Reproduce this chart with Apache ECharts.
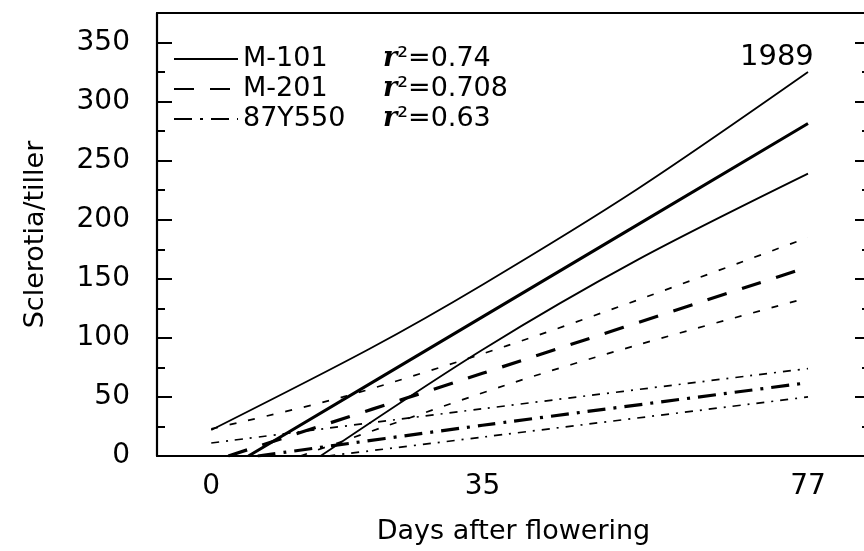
<!DOCTYPE html>
<html>
<head>
<meta charset="utf-8">
<script src="https://cdn.jsdelivr.net/npm/echarts@6/dist/echarts.min.js"></script>
<style>html,body{margin:0;padding:0;background:#fff}#c{width:864px;height:551px}</style>
</head>
<body>
<div id="c"></div>
<script>
// ---- data (days after flowering, sclerotia per tiller) ----
const xTickLabels = [0, 35, 77];
const yTickLabels = [0, 50, 100, 150, 200, 250, 300, 350];
const cultivars = ['M-101', 'M-201', '87Y550'];
const rSquared = ['0.74', '0.708', '0.63'];
const yearLabel = '1989';

const m101Fit   = [[4.8, 0], [35, 117.8], [77, 281.5]];
const m101Upper = [[0, 22], [20.5, 91], [35, 145], [55, 226], [77, 325]];
const m101Lower = [[14.1, 0], [35, 90], [55, 166], [77, 239]];

const m201Fit   = [[2.2, 0], [35, 70], [77, 160]];
const m201Upper = [[0, 23], [17, 50], [38, 93], [55, 132], [77, 185]];
const m201Lower = [[11.5, 0], [38, 60], [55, 94], [77, 134]];

const y87Fit    = [[6, 0], [35, 26], [77, 62]];
const y87Upper  = [[0, 11], [35, 40], [77, 74]];
const y87Lower  = [[15, 0], [35, 16], [77, 50]];

// ---- chart ----
const FONT = 'DejaVu Sans';
const chart = echarts.init(document.getElementById('c'), null, {renderer: 'canvas'});

function line(name, data, width, type) {
  return {
    name: name, type: 'line', data: data, showSymbol: false, symbol: 'none',
    silent: true, animation: false, clip: true, smooth: 0.3,
    lineStyle: {color: '#000', width: width, type: type},
    itemStyle: {color: '#000'}
  };
}

const thinDash = [7, 12], thickDash = [20, 16];
const thinDD = [8, 7, 2, 7], thickDD = [18, 8, 3, 8];

const series = [
  line('M-101', m101Fit, 3, 'solid'),
  line('M-101 upper', m101Upper, 1.8, 'solid'),
  line('M-101 lower', m101Lower, 1.8, 'solid'),
  line('M-201', m201Fit, 3.2, thickDash),
  line('M-201 upper', m201Upper, 1.7, thinDash),
  line('M-201 lower', m201Lower, 1.7, thinDash),
  line('87Y550', y87Fit, 3.2, thickDD),
  line('87Y550 upper', y87Upper, 1.7, thinDD),
  line('87Y550 lower', y87Lower, 1.7, thinDD)
];

const axisLine = {show: true, onZero: false, lineStyle: {color: '#000', width: 2.2}};

chart.setOption({
  animation: false,
  backgroundColor: '#fff',
  grid: {left: 157, top: 13, width: 713, height: 443, containLabel: false, outerBoundsMode: 'none'},
  xAxis: [{
    type: 'value', min: -7, max: 85, interval: 7,
    axisLine: axisLine, axisTick: {show: false}, splitLine: {show: false},
    axisLabel: {
      color: '#000', fontFamily: FONT, fontSize: 28, margin: 17,
      formatter: v => xTickLabels.indexOf(v) >= 0 ? String(v) : ''
    },
    name: 'Days after flowering', nameLocation: 'middle', nameGap: 62,
    nameTextStyle: {color: '#000', fontFamily: FONT, fontSize: 27}
  }, {
    type: 'value', position: 'top', min: -7, max: 85,
    axisLine: axisLine, axisTick: {show: false}, axisLabel: {show: false}, splitLine: {show: false}
  }],
  yAxis: [{
    type: 'value', min: 0, max: 375, interval: 50, position: 'left',
    axisLine: axisLine, splitLine: {show: false},
    axisTick: {show: true, inside: true, length: 15, lineStyle: {color: '#000', width: 2}},
    axisLabel: {
      color: '#000', fontFamily: FONT, fontSize: 28, margin: 27,
      formatter: v => yTickLabels.indexOf(v) >= 0 ? String(v) : ''
    },
    name: 'Sclerotia/tiller', nameLocation: 'middle', nameGap: 108,
    nameTextStyle: {color: '#000', fontFamily: FONT, fontSize: 27}
  }, {
    type: 'value', min: 0, max: 375, interval: 25, position: 'left',
    axisLine: {show: false, onZero: false}, splitLine: {show: false}, axisLabel: {show: false},
    axisTick: {show: true, inside: true, length: 8, lineStyle: {color: '#000', width: 2}}
  }, {
    type: 'value', min: 0, max: 375, interval: 50, position: 'right',
    axisLine: axisLine, splitLine: {show: false}, axisLabel: {show: false},
    axisTick: {show: true, inside: true, length: 15, lineStyle: {color: '#000', width: 2}}
  }, {
    type: 'value', min: 0, max: 375, interval: 25, position: 'right',
    axisLine: {show: false, onZero: false}, splitLine: {show: false}, axisLabel: {show: false},
    axisTick: {show: true, inside: true, length: 8, lineStyle: {color: '#000', width: 2}}
  }],
  legend: {
    data: cultivars, orient: 'vertical', left: 168, top: 40,
    itemWidth: 64, itemHeight: 14, itemGap: 2, selectedMode: false,
    itemStyle: {opacity: 0, borderWidth: 0},
    textStyle: {
      color: '#000', fontFamily: FONT, fontSize: 27, lineHeight: 28,
      rich: {
        n: {fontFamily: FONT, fontSize: 27, width: 140, color: '#000'},
        r: {fontFamily: 'DejaVu Serif', fontStyle: 'italic', fontWeight: 'bold', fontSize: 27, color: '#000'},
        e: {fontFamily: FONT, fontSize: 27, color: '#000'}
      }
    },
    formatter: name => '{n|' + name + '}{r|r}{e|²=' + rSquared[cultivars.indexOf(name)] + '}'
  },
  graphic: [{
    type: 'text', left: 740, top: 43,
    style: {text: yearLabel, fill: '#000', font: '29px "DejaVu Sans"'}
  }],
  series: series
});
</script>
</body>
</html>
